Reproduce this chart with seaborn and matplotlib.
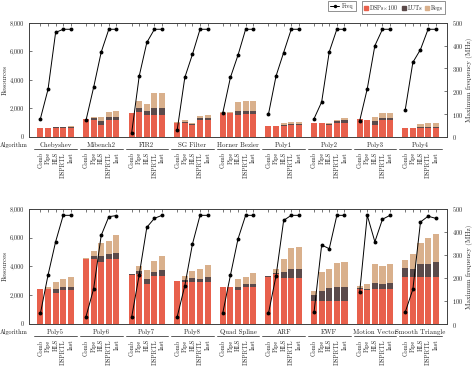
import numpy as np
import pandas as pd
import matplotlib
matplotlib.use('Agg')
import matplotlib.pyplot as plt
import matplotlib.transforms as mtransforms
from matplotlib.lines import Line2D
from matplotlib.patches import Patch
from matplotlib.ticker import FuncFormatter
import seaborn as sns

# ── data ──────────────────────────────────────────────────────────
versions = ['Comb', 'Pipe', 'HLS', 'DSPRTL', 'Inst']

top_algos = ['Chebyshev', 'Mibench2', 'FIR2', 'SG Filter', 'Horner Bezier',
             'Poly1', 'Poly2', 'Poly3', 'Poly4']
top_dsp = [[620, 620, 650, 650, 650],
           [1250, 1200, 800, 1200, 1200],
           [1650, 1750, 1550, 1550, 1550],
           [1000, 1000, 800, 1200, 1200],
           [1700, 1650, 1550, 1600, 1600],
           [790, 780, 750, 800, 800],
           [1000, 980, 850, 1000, 1000],
           [1250, 1200, 800, 1200, 1200],
           [650, 640, 600, 600, 600]]
top_lut = [[0, 0, 30, 30, 40],
           [0, 100, 300, 200, 200],
           [0, 300, 300, 450, 500],
           [0, 50, 100, 100, 100],
           [0, 0, 300, 250, 250],
           [0, 0, 100, 100, 100],
           [0, 0, 50, 100, 150],
           [0, 0, 300, 150, 150],
           [0, 0, 100, 100, 100]]
top_regs = [[20, 20, 40, 40, 70],
            [0, 100, 300, 350, 450],
            [0, 450, 450, 1050, 1050],
            [50, 100, 100, 150, 250],
            [50, 100, 600, 650, 700],
            [0, 0, 150, 150, 150],
            [0, 0, 100, 100, 150],
            [0, 0, 300, 300, 350],
            [0, 0, 200, 250, 300]]
top_freq = [[80, 208, 458, 472, 472],
            [73, 217, 372, 472, 472],
            [16, 267, 414, 472, 472],
            [31, 261, 362, 472, 472],
            [106, 261, 359, 472, 472],
            [99, 267, 370, 472, 472],
            [80, 153, 373, 472, 472],
            [70, 211, 400, 472, 472],
            [120, 327, 383, 472, 472]]

bot_algos = ['Poly5', 'Poly6', 'Poly7', 'Poly8', 'Quad Spline', 'ARF',
             'EWF', 'Motion Vector', 'Smooth Triangle']
bot_dsp = [[2400, 2400, 2150, 2350, 2350],
           [4550, 4550, 4300, 4500, 4500],
           [3400, 3450, 2750, 3350, 3350],
           [3000, 2950, 2950, 2950, 2950],
           [2600, 2550, 2350, 2550, 2550],
           [3300, 3450, 3200, 3200, 3200],
           [1600, 1600, 1600, 1600, 1600],
           [2450, 2350, 2400, 2400, 2400],
           [3300, 3300, 3300, 3300, 3300]]
bot_lut = [[0, 0, 300, 200, 250],
           [0, 150, 400, 350, 450],
           [50, 200, 400, 250, 400],
           [0, 100, 250, 200, 350],
           [0, 0, 200, 200, 200],
           [50, 100, 400, 600, 600],
           [400, 700, 900, 1000, 1000],
           [50, 100, 450, 400, 450],
           [600, 500, 850, 900, 1000]]
bot_regs = [[50, 200, 450, 550, 700],
            [50, 350, 900, 900, 1200],
            [0, 400, 600, 800, 1000],
            [0, 300, 500, 700, 800],
            [0, 50, 550, 550, 800],
            [0, 250, 950, 1450, 1550],
            [300, 1300, 1300, 1650, 1700],
            [150, 300, 1300, 1250, 1300],
            [550, 1050, 1500, 1800, 1950]]
bot_freq = [[46, 212, 357, 472, 472],
            [32, 153, 385, 466, 471],
            [29, 214, 420, 459, 472],
            [32, 167, 347, 472, 472],
            [49, 212, 370, 472, 472],
            [46, 209, 450, 472, 472],
            [52, 343, 327, 472, 472],
            [137, 472, 357, 455, 472],
            [52, 151, 443, 468, 459]]

RED, DARK, TAN = '#e8604c', '#5b4a4a', '#d9b08c'
FRAME = '0.25'

sns.set_style('ticks')
plt.rcParams['font.family'] = ['cmr10', 'DejaVu Serif']
plt.rcParams['mathtext.fontset'] = 'cm'
plt.rcParams['axes.formatter.use_mathtext'] = True
plt.rcParams['axes.unicode_minus'] = False


def make_frame(algos, dsp, lut, regs, freq):
    rows = []
    for g, name in enumerate(algos):
        for b, v in enumerate(versions):
            rows.append(dict(algo=name, version=v, pos=g * 6 + b,
                             dsp=dsp[g][b], lut=lut[g][b], regs=regs[g][b],
                             freq=freq[g][b]))
    df = pd.DataFrame(rows)
    df['dsp_lut'] = df['dsp'] + df['lut']
    df['total'] = df['dsp_lut'] + df['regs']
    return df


def draw_panel(ax, df, algos):
    # overlaid bars = stacked DSPs x100 / LUTs / Regs
    for col, c in [('total', TAN), ('dsp_lut', DARK), ('dsp', RED)]:
        sns.barplot(data=df, x='pos', y=col, native_scale=True, color=c,
                    saturation=1, width=0.8, errorbar=None, linewidth=0, ax=ax)
    ax.set_xlim(-1.5, 53.5)
    ax.set_ylim(0, 8000)
    ax.set_yticks([0, 2000, 4000, 6000, 8000])
    ax.yaxis.set_major_formatter(FuncFormatter(lambda v, p: f'{v:,.0f}'))
    ax.set_xticks(df['pos'])
    ax.set_xticklabels(df['version'], rotation=90, fontsize=4.5)
    ax.tick_params(axis='x', direction='in', length=2, width=0.5, pad=11,
                   top=True, bottom=True, color=FRAME)
    ax.tick_params(axis='y', direction='in', length=2.5, width=0.5,
                   labelsize=4.5, color=FRAME)
    ax.set_xlabel('')
    ax.set_ylabel('Resources', fontsize=5)
    ax.yaxis.set_label_coords(-0.05, 0.5)
    for s in ax.spines.values():
        s.set_color(FRAME)
        s.set_linewidth(0.6)

    trans = mtransforms.blended_transform_factory(ax.transData, ax.transAxes)
    for g, name in enumerate(algos):
        ax.text(g * 6 + 2, -0.068, name, transform=trans, ha='center',
                va='center', fontsize=4.9)
        ax.plot([g * 6 - 0.8, g * 6 + 4.8], [-0.108, -0.108], transform=trans,
                color=FRAME, lw=0.6, clip_on=False)
    ax.text(-0.004, -0.068, 'Algorithm', transform=ax.transAxes, ha='right',
            va='center', fontsize=4.5)

    ax2 = ax.twinx()
    sns.lineplot(data=df, x='pos', y='freq', units='algo', estimator=None,
                 color='black', marker='o', markersize=2.8, markeredgewidth=0,
                 linewidth=0.7, ax=ax2)
    ax2.set_ylim(0, 500)
    ax2.set_xlim(-1.5, 53.5)
    ax2.set_yticks([0, 100, 200, 300, 400, 500])
    ax2.tick_params(axis='y', direction='in', length=2.5, width=0.5,
                    labelsize=4.5, color=FRAME)
    ax2.set_ylabel('Maximum frequency (MHz)', fontsize=5)
    ax2.yaxis.set_label_coords(1.045, 0.5)
    for s in ax2.spines.values():
        s.set_color(FRAME)
        s.set_linewidth(0.6)


fig = plt.figure(figsize=(4.74, 3.75), dpi=100)
ax_top = fig.add_axes([0.0612, 0.635, 0.882, 0.304])
ax_bot = fig.add_axes([0.0612, 0.136, 0.882, 0.307])

draw_panel(ax_top, make_frame(top_algos, top_dsp, top_lut, top_regs, top_freq), top_algos)
draw_panel(ax_bot, make_frame(bot_algos, bot_dsp, bot_lut, bot_regs, bot_freq), bot_algos)

leg1 = fig.legend(handles=[Line2D([0], [0], color='black', marker='o', markersize=2.5,
                                  markeredgewidth=0, lw=0.7)],
                  labels=['Freq'], loc='upper right', bbox_to_anchor=(0.753, 1.0),
                  borderaxespad=0.2, fontsize=4.2, frameon=True, fancybox=False,
                  edgecolor=FRAME, borderpad=0.35, handlelength=1.6,
                  handletextpad=0.5)
leg1.get_frame().set_linewidth(0.5)
leg2 = fig.legend(handles=[Patch(color=RED), Patch(color=DARK), Patch(color=TAN)],
                  labels=[r'DSPs$\times$100', 'LUTs', 'Regs'], ncol=3,
                  loc='upper right', bbox_to_anchor=(0.941, 1.0), borderaxespad=0.2,
                  fontsize=4.2, frameon=True, fancybox=False, edgecolor=FRAME,
                  borderpad=0.35, handlelength=0.7, handleheight=0.7,
                  columnspacing=0.6, handletextpad=0.25)
leg2.get_frame().set_linewidth(0.5)

fig.savefig('out.png', dpi=100)
